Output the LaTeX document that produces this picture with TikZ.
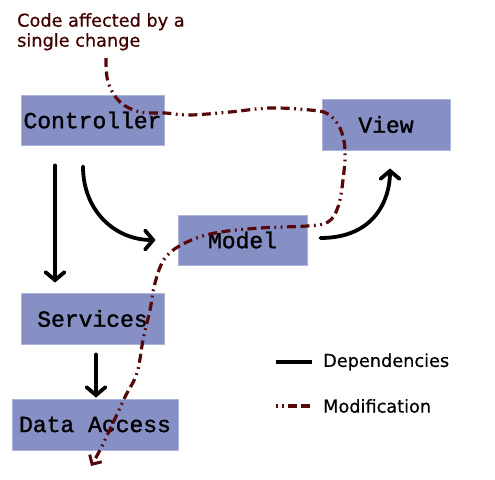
\documentclass[tikz,border=0pt]{standalone}
\usepackage{fontspec}
\setmainfont{DejaVu Sans}[FakeBold=0.6]
\newfontfamily\boxfont{Liberation Mono}[FakeBold=1.4]
\usetikzlibrary{arrows.meta}
\definecolor{boxfill}{RGB}{134,144,196}
\definecolor{boxline}{RGB}{172,180,220}
\definecolor{modcol}{RGB}{88,8,8}
\definecolor{modtext}{RGB}{64,0,0}
\tikzset{
  layer/.style={draw=boxline, line width=0.8pt, fill=boxfill, inner sep=0pt,
    font=\boxfont\fontsize{23}{24}\selectfont, text=black},
  dep/.style={line width=3.8pt, line cap=round, black,
    -{Straight Barb[length=8pt,width=19pt,line width=3.8pt,line cap=round]}},
  depline/.style={line width=3.8pt, black},
  modpath/.style={line width=3.2pt, modcol,
    dash pattern=on 9pt off 4.5pt on 9pt off 4.5pt on 1.8pt off 4.5pt on 1.8pt off 4.5pt},
  modtip/.style={-{Straight Barb[length=7pt,width=14pt,line width=3pt]}},
  legendtext/.style={anchor=west, inner sep=0pt, font=\fontsize{17.7}{20}\selectfont, text=black}
}
\begin{document}
\begin{tikzpicture}[x=1pt,y=-1pt]
\useasboundingbox (0,0) rectangle (495,479);
% boxes
\node[layer, minimum width=143pt, minimum height=50pt] (ctrl) at (92.5,120) {Controller};
\node[layer, minimum width=128pt, minimum height=51pt] (view) at (386,124.5) {View};
\node[layer, minimum width=129pt, minimum height=50pt] (model) at (242.5,240) {Model};
\node[layer, minimum width=143pt, minimum height=51pt] (serv) at (92.5,318.5) {Services};
\node[layer, minimum width=166pt, minimum height=51pt] (data) at (95,424.5) {Data Access};
% caption
\node[anchor=north west, inner sep=0pt, align=left, text=modtext,
  font=\fontsize{17.7}{20}\selectfont] (caption) at (17,13) {Code affected by a\\single change};
% dependencies
\draw[dep] ([xshift=-37.5pt,yshift=-20pt]ctrl.south) -- ([xshift=-37.5pt,yshift=10pt]serv.north);
\draw[dep] ([xshift=-9.5pt,yshift=-21pt]ctrl.south) .. controls +(0,45) and +(-40,0) .. ([xshift=-22pt]model.west);
\draw[dep] ([xshift=13pt,yshift=2pt]model.east) .. controls +(55,0) and +(0,30) .. ([xshift=4pt,yshift=-18pt]view.south);
\draw[dep] ([xshift=3.5pt,yshift=-10pt]serv.south) -- ([xshift=1pt,yshift=1pt]data.north);
% modification
\draw[modpath, modtip] plot[smooth, tension=0.6] coordinates {
  (106,58) (108,82) (120,102) (140,112) (165,113) (190,115) (230,112) (270,108)
  (310,110) (328,114) (340,128) (345,150) (343,180) (338,207) (328,222) (307,226)
  (260,228) (215,233) (185,243) (165,258) (155,283) (150,310) (143,340) (137,373)
  (125,397) (113,423) (100,450) (91,466)};
% legend
\coordinate (l1a) at (276,362);
\coordinate (l1b) at (312,362);
\coordinate (l2a) at (276,406);
\coordinate (l2b) at (312,406);
\draw[depline] (l1a) -- (l1b);
\draw[modpath, dash pattern=on 1.8pt off 4pt on 1.8pt off 4pt on 9pt off 4pt on 9pt off 4pt] (l2a) -- (l2b);
\node[legendtext] (deptext) at (323,362) {Dependencies};
\node[legendtext] (modtextnode) at (323,406) {Modification};
\end{tikzpicture}
\end{document}
